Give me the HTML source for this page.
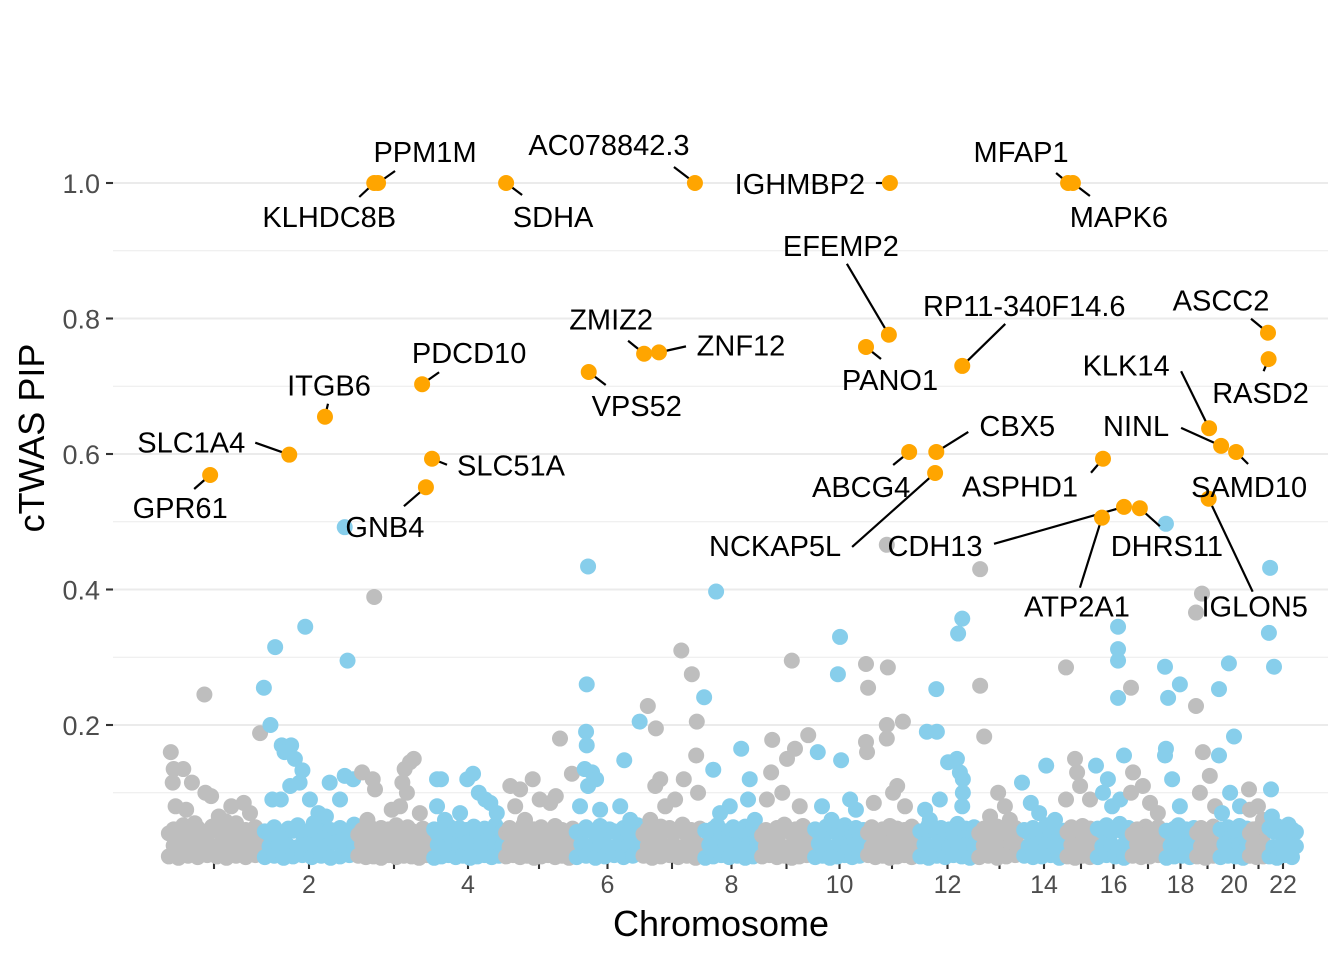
<!DOCTYPE html>
<html><head><meta charset="utf-8"><title>cTWAS PIP Manhattan</title>
<style>
html,body{margin:0;padding:0;background:#fff;}
svg{display:block;font-family:"Liberation Sans",Arial,sans-serif;}
</style></head>
<body>
<svg id="chart" width="1344" height="960" viewBox="0 0 1344 960" xmlns="http://www.w3.org/2000/svg">
<g id="grid"></g>
<g id="yaxis"></g>
<g id="xaxis"></g>
<g id="points"></g>
<g id="segs"></g>
<g id="hl"></g>
<g id="labels"></g>
<text x="721" y="936" font-size="36" text-anchor="middle" fill="#000">Chromosome</text>
<text transform="translate(44,438) rotate(-90)" font-size="36" text-anchor="middle" fill="#000">cTWAS PIP</text>
</svg>
<script>
// ---- data ----
const chromosomes = [1,2,3,4,5,6,7,8,9,10,11,12,13,14,15,16,17,18,19,20,21,22];
const chrWidth = [96,94,76,72,70,67,62,57,53,53,52,59,45,44,30,35,34,31,23,30,19,30];
const xTickLabels = ["","2","","4","","6","","8","","10","","12","","14","","16","","18","","20","","22"];
const yTicks = [0.2,0.4,0.6,0.8,1.0];
const yTickLabels = ["0.2","0.4","0.6","0.8","1.0"];
const yMinor = [0.1,0.3,0.5,0.7,0.9];

const geneNames = ["KLHDC8B","PPM1M","SDHA","AC078842.3","IGHMBP2","MFAP1","MAPK6","EFEMP2","RP11-340F14.6","ASCC2","RASD2","KLK14","ZMIZ2","ZNF12","PDCD10","ITGB6","VPS52","PANO1","SLC1A4","SLC51A","GPR61","GNB4","CBX5","ABCG4","NCKAP5L","ASPHD1","NINL","SAMD10","CDH13","DHRS11","ATP2A1","IGLON5"];
const geneChr  = [3,3,5,7,11,15,15,11,12,22,22,19,7,7,3,2,6,11,2,3,1,3,12,11,12,16,20,20,16,17,16,19];
const geneFrac = [.24,.29,.03,.87,.46,.07,.23,.44,.75,0,.02,.57,.05,.29,.87,.67,.22,0,.29,1.0,.46,.92,.31,.83,.29,.2,.07,.57,.8,.26,.17,.55];
const genePip  = [1.0,1.0,1.0,1.0,1.0,1.0,1.0,.776,.730,.779,.740,.638,.748,.750,.703,.655,.721,.758,.599,.593,.569,.551,.603,.603,.572,.593,.612,.603,.522,.520,.506,.534];

// scattered (non-highlighted) genes: [chromosome, relative position, PIP]
const scatterPts = [
[1,.40,.245],[1,.05,.16],[1,.08,.135],[1,.18,.135],[1,.27,.115],[1,.07,.115],[1,.41,.10],[1,.47,.095],[1,.68,.08],[1,.81,.085],[1,.10,.08],[1,.21,.075],[1,.55,.065],[1,.875,.07],[1,.98,.188],[1,.3,.055],[1,.62,.058],
[2,.02,.255],[2,.09,.20],[2,.14,.315],[2,.46,.345],[2,.21,.17],[2,.31,.17],[2,.24,.16],[2,.35,.15],[2,.43,.133],[2,.40,.115],[2,.30,.11],[2,.91,.295],[2,.88,.125],[2,.72,.115],[2,.97,.12],[2,.11,.09],[2,.20,.09],[2,.60,.07],[2,.51,.09],[2,.83,.09],[2,.68,.065],[2,.88,.492],[2,.55,.055],
[3,.24,.389],[3,.08,.13],[3,.22,.12],[3,.25,.105],[3,.64,.135],[3,.71,.145],[3,.76,.15],[3,.61,.115],[3,.67,.10],[3,.58,.08],[3,.47,.075],[3,.84,.07],[3,.15,.06],
[4,.07,.12],[4,.125,.12],[4,.07,.08],[4,.49,.12],[4,.57,.128],[4,.65,.10],[4,.74,.09],[4,.81,.085],[4,.39,.07],[4,.18,.06],[4,.9,.07],
[5,.09,.11],[5,.23,.105],[5,.41,.12],[5,.8,.18],[5,.74,.095],[5,.66,.085],[5,.97,.128],[5,.51,.09],[5,.16,.08],[5,.3,.06],
[6,.21,.434],[6,.19,.26],[6,.18,.19],[6,.19,.17],[6,.16,.135],[6,.27,.13],[6,.33,.12],[6,.21,.11],[6,.39,.075],[6,.75,.148],[6,.69,.08],[6,.84,.06],[6,.09,.08],[6,.98,.205],
[7,.65,.31],[7,.82,.275],[7,.11,.228],[7,.24,.195],[7,.90,.205],[7,.89,.155],[7,.69,.12],[7,.31,.12],[7,.23,.11],[7,.92,.10],[7,.39,.08],[7,.55,.09],[7,.15,.06],
[8,.02,.241],[8,.23,.397],[8,.18,.134],[8,.67,.165],[8,.82,.12],[8,.79,.09],[8,.47,.08],[8,.30,.07],[8,.91,.06],
[9,.60,.295],[9,.23,.178],[9,.91,.185],[9,.66,.165],[9,.51,.15],[9,.21,.13],[9,.42,.10],[9,.75,.08],[9,.13,.09],
[10,.51,.33],[10,.47,.275],[10,.53,.148],[10,.09,.16],[10,.81,.075],[10,.70,.09],[10,.17,.08],[10,.35,.06],
[11,.40,.466],[11,.0,.29],[11,.42,.285],[11,.04,.255],[11,.40,.20],[11,.71,.205],[11,.0,.175],[11,.02,.16],[11,.40,.18],[11,.60,.11],[11,.52,.10],[11,.15,.085],[11,.75,.08],
[12,.75,.357],[12,.68,.335],[12,.31,.253],[12,.15,.19],[12,.32,.19],[12,.51,.145],[12,.66,.15],[12,.71,.13],[12,.76,.12],[12,.76,.10],[12,.37,.09],[12,.12,.075],[12,.75,.08],[12,.20,.06],
[13,.07,.43],[13,.07,.258],[13,.16,.183],[13,.47,.10],[13,.62,.08],[13,.29,.065],[13,.73,.06],
[14,.0,.115],[14,.55,.14],[14,.20,.085],[14,.39,.07],[14,.75,.06],
[15,.0,.285],[15,.0,.09],[15,.30,.15],[15,.37,.13],[15,.47,.11],[15,.80,.09],
[16,.63,.345],[16,.63,.312],[16,.63,.295],[16,.63,.24],[16,.80,.155],[16,.0,.14],[16,.34,.12],[16,.20,.10],[16,.69,.09],[16,.46,.08],
[17,.0,.255],[17,.06,.13],[17,.35,.11],[17,.0,.10],[17,.56,.085],[17,.79,.07],
[18,.03,.497],[18,.0,.286],[18,.10,.24],[18,.48,.26],[18,.03,.165],[18,.0,.155],[18,.23,.12],[18,.48,.08],
[19,.26,.394],[19,.0,.366],[19,.0,.228],[19,.30,.16],[19,.60,.125],[19,.17,.10],[19,.83,.08],
[20,.33,.291],[20,.0,.253],[20,.50,.183],[20,.0,.155],[20,.37,.10],[20,.70,.08],[20,.10,.07],
[21,.0,.105],[21,.05,.075],[21,.47,.08],[21,.74,.06],
[22,.07,.432],[22,.03,.336],[22,.20,.286],[22,.10,.105],[22,.13,.065],[22,.6,.05]
];

// dense low-PIP genes: per chromosome relative positions and PIPs (two sets)
const lowFrac = [
[.03,.08,.13,.18,.23,.28,.33,.38,.43,.48,.53,.58,.63,.68,.73,.78,.83,.88,.93,.98],
[.03,.08,.13,.18,.23,.28,.33,.38,.43,.48,.53,.58,.63,.68,.73,.78,.83,.88,.93,.98],
[.03,.08,.13,.18,.23,.28,.33,.38,.43,.48,.53,.58,.63,.68,.73,.78,.83,.88,.93,.98],
[.03,.08,.13,.18,.23,.28,.33,.38,.43,.48,.53,.58,.63,.68,.73,.78,.83,.88,.93,.98],
[.03,.08,.13,.18,.23,.28,.33,.38,.43,.48,.53,.58,.63,.68,.73,.78,.83,.88,.93,.98],
[.04,.11,.18,.25,.32,.39,.46,.53,.60,.67,.74,.81,.88,.95],
[.04,.11,.18,.25,.32,.39,.46,.53,.60,.67,.74,.81,.88,.95],
[.04,.11,.18,.25,.32,.39,.46,.53,.60,.67,.74,.81,.88,.95],
[.04,.11,.18,.25,.32,.39,.46,.53,.60,.67,.74,.81,.88,.95],
[.04,.11,.18,.25,.32,.39,.46,.53,.60,.67,.74,.81,.88,.95],
[.04,.11,.18,.25,.32,.39,.46,.53,.60,.67,.74,.81,.88,.95],
[.04,.11,.18,.25,.32,.39,.46,.53,.60,.67,.74,.81,.88,.95],
[.05,.15,.25,.35,.45,.55,.65,.75,.85,.95],
[.05,.15,.25,.35,.45,.55,.65,.75,.85,.95],
[.05,.18,.30,.43,.55,.68,.80,.93],
[.05,.18,.30,.43,.55,.68,.80,.93],
[.05,.18,.30,.43,.55,.68,.80,.93],
[.05,.18,.30,.43,.55,.68,.80,.93],
[.05,.22,.40,.57,.75,.92],
[.05,.18,.30,.43,.55,.68,.80,.93],
[.05,.22,.40,.57,.75,.92],
[.05,.18,.30,.43,.55,.68,.80,.93]
];
const lowPip = [
[.006,.022,.004,.025,.007,.020,.005,.024,.008,.021,.006,.023,.004,.026,.007,.020,.005,.022,.008,.024],
[.005,.021,.007,.025,.004,.022,.006,.020,.008,.024,.005,.023,.007,.021,.004,.026,.006,.022,.008,.020],
[.007,.024,.005,.021,.006,.026,.004,.022,.008,.020,.005,.025,.007,.023,.006,.021,.004,.024,.008,.022],
[.004,.023,.006,.020,.008,.024,.005,.022,.007,.026,.004,.021,.006,.023,.008,.020,.005,.025,.007,.022],
[.006,.020,.008,.024,.005,.022,.007,.021,.004,.025,.006,.023,.008,.020,.005,.024,.007,.022,.004,.021],
[.005,.024,.007,.021,.004,.023,.006,.020,.008,.025,.005,.022,.007,.024],
[.007,.022,.004,.025,.006,.021,.008,.023,.005,.020,.007,.024,.004,.022],
[.004,.023,.006,.020,.008,.025,.005,.022,.007,.021,.004,.024,.006,.023],
[.006,.021,.008,.024,.005,.022,.007,.020,.004,.025,.006,.023,.008,.021],
[.005,.025,.007,.022,.004,.020,.006,.024,.008,.021,.005,.023,.007,.022],
[.008,.020,.005,.023,.007,.025,.004,.021,.006,.024,.008,.022,.005,.020],
[.006,.024,.004,.021,.007,.023,.005,.020,.008,.025,.006,.022,.004,.024],
[.005,.022,.007,.025,.004,.021,.006,.024,.008,.020],
[.007,.021,.005,.024,.006,.022,.008,.020,.004,.023],
[.006,.023,.004,.020,.007,.025,.005,.022],
[.005,.021,.008,.024,.006,.020,.004,.023],
[.007,.024,.005,.022,.006,.021,.008,.025],
[.004,.022,.006,.025,.007,.020,.005,.023],
[.006,.021,.004,.024,.007,.022],
[.005,.024,.007,.021,.006,.023,.004,.020],
[.007,.022,.005,.025,.006,.021],
[.006,.020,.004,.023,.008,.024,.005,.021]
];
const midPip = [
[.040,.046,.038,.052,.043,.036,.048,.041,.039,.050,.044,.037,.047,.042,.055,.039,.045,.040,.049,.038],
[.043,.038,.049,.041,.036,.047,.044,.052,.039,.042,.046,.037,.050,.040,.045,.038,.048,.043,.041,.053],
[.038,.045,.041,.050,.037,.043,.048,.040,.046,.039,.052,.042,.037,.049,.044,.041,.038,.047,.043,.040],
[.046,.039,.043,.037,.051,.044,.040,.048,.038,.045,.042,.050,.041,.036,.047,.043,.039,.052,.040,.044],
[.041,.048,.037,.044,.040,.053,.042,.038,.046,.041,.049,.039,.044,.037,.051,.040,.045,.042,.038,.047],
[.042,.038,.049,.044,.040,.051,.037,.046,.043,.039,.048,.041,.045,.052],
[.039,.046,.041,.037,.050,.043,.048,.040,.044,.053,.038,.045,.042,.047],
[.044,.040,.047,.052,.038,.043,.041,.049,.037,.045,.050,.039,.046,.042],
[.037,.045,.042,.039,.048,.041,.053,.044,.040,.046,.038,.051,.043,.039],
[.046,.041,.038,.050,.043,.047,.040,.037,.052,.044,.041,.048,.039,.045],
[.041,.049,.044,.038,.046,.040,.051,.043,.047,.039,.045,.042,.050,.037],
[.043,.039,.052,.045,.041,.048,.038,.046,.042,.054,.040,.047,.044,.049],
[.040,.047,.043,.038,.050,.042,.045,.039,.048,.041],
[.045,.041,.048,.039,.043,.052,.040,.046,.038,.044],
[.042,.049,.038,.045,.051,.041,.047,.040],
[.047,.043,.052,.040,.046,.054,.041,.048],
[.039,.046,.042,.050,.044,.038,.049,.043],
[.044,.040,.047,.052,.041,.046,.039,.048],
[.041,.048,.043,.039,.050,.045],
[.046,.042,.049,.040,.045,.051,.043,.047],
[.040,.046,.042,.049,.038,.044],
[.048,.043,.051,.045,.040,.053,.046,.042]
];

// ---- layout (label offsets from point: textDx, textDy, segEndDx, segEndDy) ----
const labelOffsets = [
[-45,44,-15,14],[47,-21,17,-12],[47,44,16,12],[-86,-28,-21,-16],[-90,11,-14,0],[-47,-21,-12,-10],[46,44,17,13],
[-48,-79,-42,-71],[62,-50,43,-42],[-47,-22,-17,-14],[-8,44,-5,12],[-83,-53,-28,-57],[-33,-24,-16,-13],[82,3,27,-6],
[47,-21,17,-12],[4,-21,3,-13],[48,44,17,13],[24,43,15,12],[-98,-2,-34,-12],[79,17,15,6],[-30,43,-16,14],[-41,50,-22,19],
[81,-16,32,-20],[-48,45,-16,13],[-160,83,-83,74],[-83,38,-12,14],[-85,-10,-40,-18],[13,45,12,12],[-189,49,-130,37],
[27,48,20,18],[-25,99,-22,70],[46,118,44,93]
];

const NS = "http://www.w3.org/2000/svg";
const X0 = 166, PL = 113, PR = 1328, R = 8;
const chrStart = [];
let acc = 0;
for (let i = 0; i < chrWidth.length; i++) { chrStart.push(acc); acc += chrWidth[i]; }
function xScale(chr, frac) { return X0 + chrStart[chr-1] + frac * chrWidth[chr-1]; }
function yScale(p) { return 860.5 - p * 677.5; }
function mk(tag, attrs, parent) {
  const el = document.createElementNS(NS, tag);
  for (const k in attrs) el.setAttribute(k, attrs[k]);
  parent.appendChild(el);
  return el;
}

// grid
const grid = document.getElementById('grid');
yMinor.forEach(v => {
  const l = mk('line', {x1:PL, x2:PR, y1:yScale(v), y2:yScale(v), stroke:'#ebebeb', 'stroke-width':1.1}, grid);
  
  
});
yTicks.forEach(v => {
  const l = mk('line', {x1:PL, x2:PR, y1:yScale(v), y2:yScale(v), stroke:'#ebebeb', 'stroke-width':2.1}, grid);
  
  
});

// y axis
const yax = document.getElementById('yaxis');
yTicks.forEach((v, i) => {
  const t = mk('line', {x1:106, x2:113, y1:yScale(v), y2:yScale(v), stroke:'#333', 'stroke-width':2.1}, yax);
  
  
  const tx = mk('text', {x:100, y:yScale(v)+10, 'font-size':27, fill:'#4d4d4d', 'text-anchor':'end'}, yax);
  tx.textContent = yTickLabels[i];
  
  
});

// x axis
const xax = document.getElementById('xaxis');
chromosomes.forEach((c, i) => {
  const cx = xScale(c, 0.5);
  const t = mk('line', {x1:cx, x2:cx, y1:862, y2:869, stroke:'#333', 'stroke-width':2.1}, xax);
  
  
  if (xTickLabels[i]) {
    const tx = mk('text', {x:cx, y:893, 'font-size':25, fill:'#4d4d4d', 'text-anchor':'middle'}, xax);
    tx.textContent = xTickLabels[i];
    
    
  }
});

// points
const pg = document.getElementById('points');
function colorFor(c) { return c % 2 === 1 ? '#bebebe' : '#87ceeb'; }
chromosomes.forEach((c, i) => {
  lowFrac[i].forEach((f, j) => {
    const d = mk('circle', {cx:xScale(c, f), cy:yScale(midPip[i][j]), r:R, fill:colorFor(c)}, pg);
    
    
  });
  lowFrac[i].forEach((f, j) => {
    const d = mk('circle', {cx:xScale(c, f), cy:yScale(lowPip[i][j]), r:R, fill:colorFor(c)}, pg);
    
    
  });
  scatterPts.filter(p => p[0] === c).forEach(p => {
    const d = mk('circle', {cx:xScale(p[0], p[1]), cy:yScale(p[2]), r:R, fill:colorFor(c)}, pg);
    
    
  });
});

// highlighted genes
const sg = document.getElementById('segs'), hg = document.getElementById('hl'), lg = document.getElementById('labels');
geneNames.forEach((g, i) => {
  const px = xScale(geneChr[i], geneFrac[i]), py = yScale(genePip[i]);
  const o = labelOffsets[i];
  const s = mk('line', {x1:px, y1:py, x2:px+o[2], y2:py+o[3], stroke:'#000', 'stroke-width':2.2}, sg);
  
  
  const d = mk('circle', {cx:px, cy:py, r:R, fill:'#ffa500'}, hg);
  
  
  const t = mk('text', {x:px+o[0], y:py+o[1], 'font-size':29, fill:'#000', 'text-anchor':'middle'}, lg);
  t.textContent = g;
  
  
});
</script>
</body></html>
